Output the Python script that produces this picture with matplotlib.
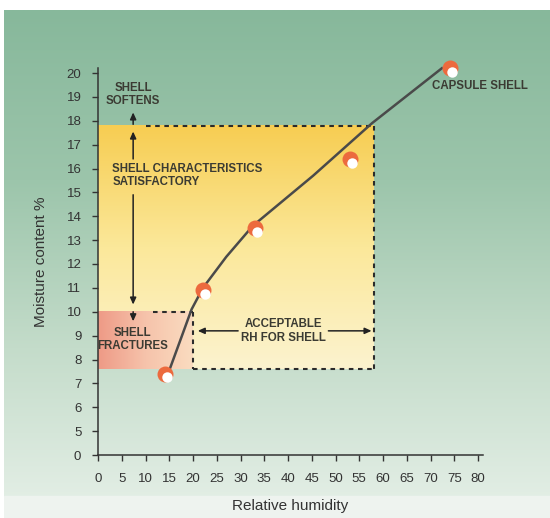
import matplotlib
matplotlib.use('Agg')
import matplotlib.pyplot as plt
import matplotlib.transforms as mtrans
import numpy as np
from matplotlib.colors import LinearSegmentedColormap

plt.rcParams['font.family'] = ['Liberation Sans', 'DejaVu Sans']

# measured capsule shells
rh = [14, 22, 33, 53, 74]
moisture = [7.4, 10.9, 13.5, 16.4, 20.2]

# drawn trend curve
curve_rh = [15.2, 17.5, 19.7, 22.1, 27, 32.6, 45.3, 57.7, 72.4]
curve_mc = [7.65, 8.9, 10.1, 11.0, 12.3, 13.6, 15.7, 17.9, 20.2]

# zones
soft_limit = 17.8
fracture_limit = 10.0
low_mc = 7.6
rh_low = 20
rh_high = 58

x_ticks = list(range(0, 81, 5))
y_labels = [0] + list(range(5, 21))

TXT = '#3b3b33'


def ypos(v):
    # broken y axis: 0 sits one step below 5
    v = np.asarray(v, dtype=float)
    return np.where(v >= 5, v - 4, v / 5.0)


fig = plt.figure(figsize=(5.5, 5.18), dpi=100)
fig.patch.set_facecolor('white')

# background panel
bg = fig.add_axes([4 / 550, 0, 1 - 4 / 550, 1 - 10 / 518], zorder=-10)
grad = np.linspace(0, 1, 256).reshape(-1, 1)
bg_cmap = LinearSegmentedColormap.from_list('bg', ['#e6f0e8', '#c4dcca', '#9cc5ab', '#87b89b'])
bg.imshow(grad, cmap=bg_cmap, aspect='auto', origin='lower', extent=[0, 1, 0, 1])
bg.axhspan(0, 22 / 508, color='#eef3ef')
bg.set_xlim(0, 1)
bg.set_ylim(0, 1)
bg.axis('off')

ax = fig.add_axes([98 / 550, 63 / 518, 81 * 4.75 / 550, 16.2 * 23.875 / 518])
ax.patch.set_alpha(0)
ax.set_xlim(0, 81)
ax.set_ylim(0, 16.2)

# yellow zone
yel = LinearSegmentedColormap.from_list('yel', ['#fcf3cf', '#fbe89a', '#f7cd52'])
ax.imshow(grad, cmap=yel, aspect='auto', origin='lower',
          extent=[0, rh_high, float(ypos(low_mc)), float(ypos(soft_limit))], zorder=1)
# red zone
red = LinearSegmentedColormap.from_list('red', ['#ee9a86', '#f6c3ab', '#fadcc0'])
hgrad = np.linspace(0, 1, 256).reshape(1, -1)
ax.imshow(hgrad, cmap=red, aspect='auto', origin='lower',
          extent=[0, rh_low, float(ypos(low_mc)), float(ypos(fracture_limit))], zorder=2)

dash = dict(color='#2b2b2b', lw=1.5, linestyle=(0, (2.2, 2.2)), zorder=3)
ax.plot([10, rh_high], ypos([soft_limit, soft_limit]), **dash)
ax.plot([rh_high, rh_high], ypos([soft_limit, low_mc]), **dash)
ax.plot([rh_low, rh_high], ypos([low_mc, low_mc]), **dash)
ax.plot([11.5, rh_low], ypos([fracture_limit, fracture_limit]), **dash)
ax.plot([rh_low, rh_low], ypos([fracture_limit, low_mc]), **dash)

ax.plot(curve_rh, ypos(curve_mc), color='#4a4a4a', lw=1.8, zorder=4, clip_on=False)

ax.plot(rh, ypos(moisture), 'o', color='#ec6a3e', ms=11.5, mec='none', zorder=5, clip_on=False)
shift = mtrans.offset_copy(ax.transData, fig=fig, x=1.6, y=-2.6, units='points')
ax.plot(rh, ypos(moisture), 'o', color='white', ms=7.5, mec='none', zorder=6,
        transform=shift, clip_on=False)

arr = dict(arrowstyle='-|>,head_length=0.4,head_width=0.18', color='#222222', lw=1.1,
           shrinkA=0, shrinkB=0)
ax.annotate('', xy=(7.4, ypos(18.35)), xytext=(7.4, ypos(17.85)), arrowprops=arr, zorder=7)
ax.annotate('', xy=(7.4, ypos(17.55)), xytext=(7.4, ypos(16.4)), arrowprops=arr, zorder=7)
ax.annotate('', xy=(7.4, ypos(10.3)), xytext=(7.4, ypos(14.9)), arrowprops=arr, zorder=7)
ax.annotate('', xy=(7.4, ypos(9.6)), xytext=(7.4, ypos(10.0)), arrowprops=arr, zorder=7)
ax.annotate('', xy=(21, ypos(9.2)), xytext=(29.5, ypos(9.2)), arrowprops=arr, zorder=7)
ax.annotate('', xy=(57.6, ypos(9.2)), xytext=(48.5, ypos(9.2)), arrowprops=arr, zorder=7)

tkw = dict(color=TXT, fontsize=8.3, fontweight='bold', linespacing=1.15, zorder=8)
ax.text(7.4, ypos(19.1), 'SHELL\nSOFTENS', ha='center', va='center', **tkw)
ax.text(3.0, ypos(15.7), 'SHELL CHARACTERISTICS\nSATISFACTORY', ha='left', va='center', **tkw)
ax.text(7.3, ypos(8.85), 'SHELL\nFRACTURES', ha='center', va='center', **tkw)
ax.text(39, ypos(9.2), 'ACCEPTABLE\nRH FOR SHELL', ha='center', va='center', **tkw)
ax.text(70.3, ypos(19.45), 'CAPSULE SHELL', ha='left', va='center', **tkw)

ax.set_xticks(x_ticks)
ax.set_xticklabels([str(t) for t in x_ticks])
ax.set_yticks(ypos(y_labels))
ax.set_yticklabels([str(v) for v in y_labels])
ax.tick_params(colors='#333333', labelsize=9.5, length=4, width=1, pad=5)
ax.tick_params(axis='y', pad=8)
ax.tick_params(axis='x', pad=9)
for s in ['top', 'right']:
    ax.spines[s].set_visible(False)
for s in ['left', 'bottom']:
    ax.spines[s].set_color('#333333')
    ax.spines[s].set_linewidth(1.1)

ax.set_xlabel('Relative humidity', fontsize=11, color='#333333', labelpad=10)
ax.set_ylabel('Moisture content %', fontsize=11, color='#333333', labelpad=13)

fig.savefig('out.png', dpi=100)
plt.close(fig)
